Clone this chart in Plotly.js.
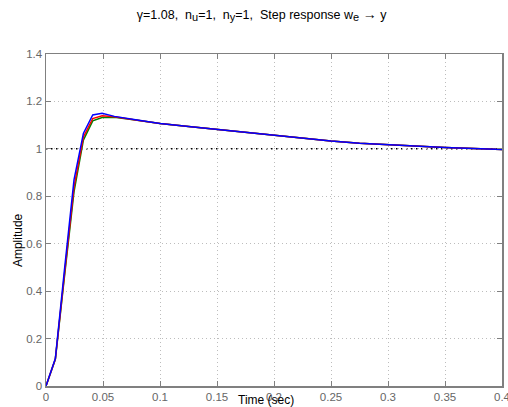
<!DOCTYPE html>
<html><head><meta charset="utf-8">
<script src="https://cdn.plot.ly/plotly-3.0.1.min.js"></script>
<style>html,body{margin:0;padding:0;background:#fff}#plot{width:508px;height:407px}</style>
</head><body><div id="plot"></div>
<script>
const time = [0, 0.0082, 0.0164, 0.0246, 0.0328, 0.041, 0.0492, 0.06, 0.08, 0.1, 0.125, 0.15, 0.175, 0.2, 0.225, 0.25, 0.275, 0.3, 0.325, 0.35, 0.375, 0.4];
const greenY = [0, 0.112, 0.47, 0.82, 1.037, 1.118, 1.132, 1.133, 1.121, 1.107, 1.094, 1.082, 1.069, 1.057, 1.044, 1.033, 1.024, 1.017, 1.011, 1.006, 1.001, 0.997];
const redY   = [0, 0.114, 0.48, 0.84, 1.050, 1.128, 1.140, 1.135, 1.121, 1.107, 1.094, 1.082, 1.069, 1.057, 1.044, 1.033, 1.024, 1.017, 1.011, 1.006, 1.001, 0.997];
const blueY  = [0, 0.116, 0.50, 0.87, 1.065, 1.143, 1.150, 1.137, 1.122, 1.107, 1.094, 1.082, 1.069, 1.057, 1.044, 1.033, 1.024, 1.017, 1.011, 1.006, 1.001, 0.997];
const xTicks = [0, 0.05, 0.1, 0.15, 0.2, 0.25, 0.3, 0.35, 0.4];
const yTicks = [0, 0.2, 0.4, 0.6, 0.8, 1, 1.2, 1.4];
const refLevel = 1;

const FONT = "Liberation Sans, Arial, sans-serif";
const mk = (y, c) => ({x: time, y: y, type: 'scatter', mode: 'lines', line: {color: c, width: 1.5}, hoverinfo: 'skip'});
const data = [mk(greenY, '#008000'), mk(redY, '#ff0000'), mk(blueY, '#0000ff')];

const axisCommon = {
  showgrid: true, gridcolor: '#bdbdbd', griddash: '1px,3px', gridwidth: 1,
  zeroline: false, showline: true, linecolor: '#808080', linewidth: 1.5,
  mirror: 'ticks', ticks: 'inside', ticklen: 5, tickcolor: '#808080',
  ticklabeloverflow: 'allow',
  tickfont: {family: FONT, size: 11.5, color: '#666666'}
};

const sub = s => '<sub><span style="font-size:11px">' + s + '</span></sub>';
const layout = {
  width: 508, height: 407,
  margin: {l: 46, r: 6, t: 54, b: 21},
  paper_bgcolor: '#fff', plot_bgcolor: '#fff',
  showlegend: false,
  title: {text: 'γ=1.08,  n' + sub('u') + '=1,  n' + sub('y') + '=1,  Step response w' + sub('e') + ' <span style="font-size:14px">→</span> y',
          font: {family: FONT, size: 12.5, color: '#000'}, x: 0.515, xanchor: 'center', y: 0.965, yanchor: 'middle'},
  xaxis: Object.assign({}, axisCommon, {range: [0, 0.4], tickvals: xTicks, ticktext: xTicks.map(String)}),
  yaxis: Object.assign({}, axisCommon, {range: [0, 1.4], tickvals: yTicks, ticktext: yTicks.map(String)}),
  shapes: [{type: 'line', xref: 'paper', x0: 0, x1: 1, yref: 'y', y0: refLevel, y1: refLevel,
            line: {color: '#000', width: 1.5, dash: '1.5px,3.5px'}, layer: 'below'}],
  annotations: [
    {text: 'Time (sec)', xref: 'paper', yref: 'paper', x: 0.482, y: -0.042, xanchor: 'center', yanchor: 'middle',
     showarrow: false, font: {family: FONT, size: 12, color: '#000'}},
    {text: 'Amplitude', xref: 'paper', yref: 'paper', x: -0.061, y: 0.44, xanchor: 'center', yanchor: 'middle',
     textangle: -90, showarrow: false, font: {family: FONT, size: 12, color: '#000'}}
  ]
};
Plotly.newPlot('plot', data, layout, {staticPlot: true, displayModeBar: false});
</script></body></html>
